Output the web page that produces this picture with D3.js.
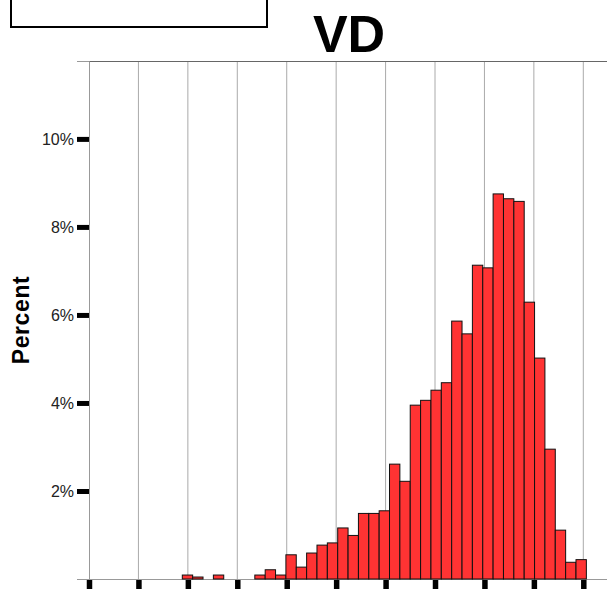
<!doctype html>
<html>
<head>
  <style>
    body { margin: 0; background: #fff; }
    .bar { fill: #ff3333; stroke: #111; stroke-width: 1; }
    text { font-family: "Liberation Sans", Arial, sans-serif; }
  </style>
  <script src="https://d3js.org/d3.v7.min.js"></script>
</head>
<body>
<svg width="607" height="589"></svg>
<script>
  // histogram of VD, percent per bin
  var binStart = 1.8875,
    binWidth = 0.2096;
  var percents = [0.09, 0.045, 0, 0.09, 0, 0, 0, 0.09, 0.21, 0.09,
    0.55, 0.27, 0.59, 0.77, 0.82, 1.16, 0.99, 1.49, 1.49, 1.55,
    2.61, 2.22, 3.95, 4.06, 4.29, 4.46, 5.86, 5.57, 7.13, 7.07,
    8.75, 8.64, 8.58, 6.29, 5.02, 2.95, 1.11, 0.38, 0.44];
  var xTicks = [0, 1, 2, 3, 4, 5, 6, 7, 8, 9, 10];
  var yTicks = [2, 4, 6, 8, 10];

  var svg = d3.select("svg"),
    W = +svg.attr("width"),
    plotLeft = 89, plotTop = 61, plotBottom = 579;

  var x = d3.scaleLinear().domain([0, 10]).range([plotLeft, 583.3]);
  var y = d3.scaleLinear().domain([0, 11.77]).range([plotBottom, plotTop]);

  var bins = percents.map(function (p, i) {
    return { x0: binStart + i * binWidth, x1: binStart + (i + 1) * binWidth, value: p };
  });

  // box at top left (cut off)
  svg.append("rect")
    .attr("x", 11).attr("y", -10)
    .attr("width", 256).attr("height", 37)
    .attr("fill", "none").attr("stroke", "#000").attr("stroke-width", 2);

  // title
  svg.append("text")
    .attr("x", 349).attr("y", 52)
    .attr("text-anchor", "middle")
    .attr("font-size", 52).attr("font-weight", "bold")
    .text("VD");

  // vertical grid
  svg.append("g").selectAll("line")
    .data(xTicks.slice(1))
    .enter().append("line")
    .attr("x1", function (d) { return x(d); })
    .attr("x2", function (d) { return x(d); })
    .attr("y1", plotTop).attr("y2", plotBottom)
    .attr("stroke", "#aaa");

  // frame top + baseline
  svg.append("line").attr("x1", plotLeft).attr("x2", W)
    .attr("y1", plotTop + 0.5).attr("y2", plotTop + 0.5).attr("stroke", "#666");
  svg.append("line").attr("x1", plotLeft).attr("x2", W)
    .attr("y1", plotBottom + 0.5).attr("y2", plotBottom + 0.5).attr("stroke", "#999");

  // bars
  svg.append("g").selectAll(".bar")
    .data(bins.filter(function (d) { return d.value > 0; }))
    .enter().append("rect")
    .attr("class", "bar")
    .attr("x", function (d) { return x(d.x0); })
    .attr("y", function (d) { return y(d.value); })
    .attr("width", function (d) { return x(d.x1) - x(d.x0); })
    .attr("height", function (d) { return plotBottom - y(d.value); });

  // y axis
  var ya = svg.append("g")
    .attr("transform", "translate(" + plotLeft + ",0)")
    .call(d3.axisLeft(y).tickValues(yTicks).tickSize(12).tickPadding(3)
      .tickFormat(function (d) { return d + "%"; }));
  ya.select(".domain").attr("stroke", "#999");
  ya.selectAll(".tick line").attr("stroke", "#000").attr("stroke-width", 5);
  ya.selectAll(".tick text")
    .attr("font-size", 16).attr("fill", "#222");

  // x axis ticks (no labels)
  var xa = svg.append("g")
    .attr("transform", "translate(0," + (plotBottom + 1) + ")")
    .call(d3.axisBottom(x).tickValues(xTicks).tickSize(12).tickFormat(""));
  xa.select(".domain").remove();
  xa.selectAll(".tick line").attr("stroke", "#000").attr("stroke-width", 5.5);

  // y title
  svg.append("text")
    .attr("transform", "translate(29,320) rotate(-90)")
    .attr("text-anchor", "middle")
    .attr("font-size", 23).attr("font-weight", "bold")
    .attr("letter-spacing", 0.6)
    .text("Percent");
</script>
</body>
</html>
